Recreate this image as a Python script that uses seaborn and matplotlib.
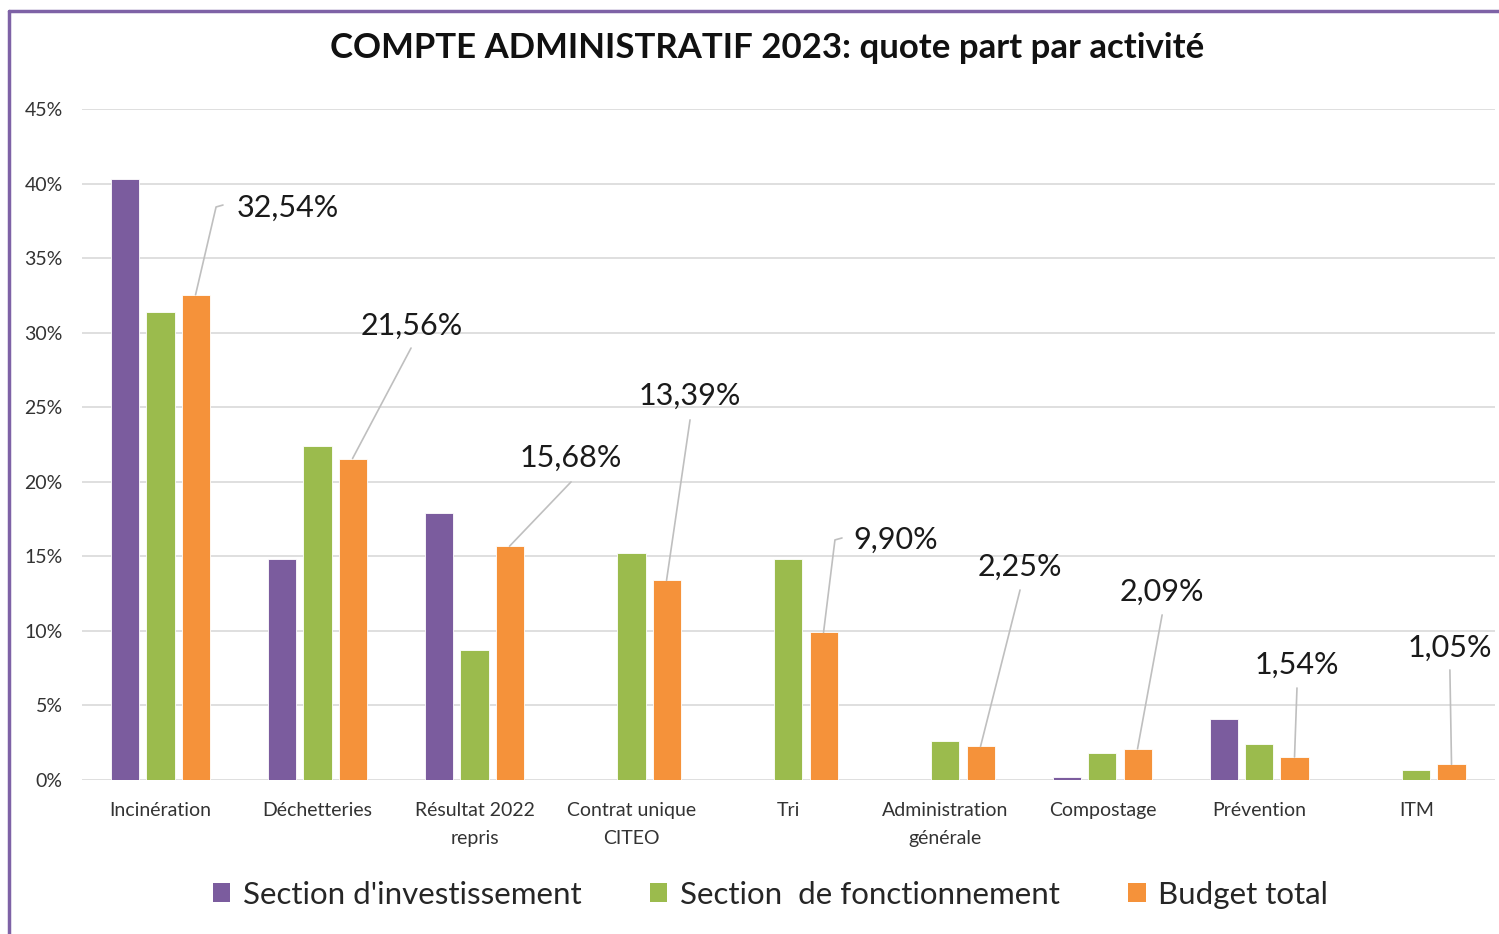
import matplotlib
matplotlib.use("Agg")
import matplotlib.pyplot as plt
import seaborn as sns
import pandas as pd
import numpy as np
from matplotlib.lines import Line2D
from matplotlib.patches import Patch
from matplotlib.ticker import PercentFormatter

categories = ["Incinération", "Déchetteries", "Résultat 2022\nrepris", "Contrat unique\nCITEO",
              "Tri", "Administration\ngénérale", "Compostage", "Prévention", "ITM"]
series_names = ["Section d'investissement", "Section  de fonctionnement", "Budget total"]
investissement = [40.3, 14.8, 17.9, 0.0, 0.0, 0.0, 0.2, 4.1, 0.0]
fonctionnement = [31.4, 22.4, 8.7, 15.2, 14.8, 2.6, 1.8, 2.4, 0.7]
budget_total = [32.54, 21.56, 15.68, 13.39, 9.90, 2.25, 2.09, 1.54, 1.05]
colors = ["#7B5C9E", "#9BBB4D", "#F5923A"]
title = "COMPTE ADMINISTRATIF 2023: quote part par activité"

df = pd.DataFrame({
    "cat": categories * 3,
    "serie": [series_names[0]] * 9 + [series_names[1]] * 9 + [series_names[2]] * 9,
    "val": investissement + fonctionnement + budget_total,
})

sns.set_theme(style="white")
plt.rcParams["font.family"] = ["Lato", "DejaVu Sans"]

fig = plt.figure(figsize=(14.99, 9.34), dpi=100)
ax = fig.add_axes([0.0547, 0.1649, 0.9426, 0.7184])

sns.barplot(data=df, x="cat", y="val", hue="serie", hue_order=series_names,
            palette=colors, width=0.67, gap=0.2, ax=ax, legend=False,
            saturation=1, edgecolor="white", linewidth=0.6)

ax.set_ylim(0, 45)
ax.set_xlim(-0.5, 8.5)
ax.set_yticks(np.arange(0, 46, 5))
ax.yaxis.set_major_formatter(PercentFormatter(decimals=0))
ax.grid(axis="y", color="#d9d9d9", linewidth=1.2)
ax.set_axisbelow(True)
for s in ax.spines.values():
    s.set_visible(False)
ax.tick_params(axis="both", length=0, labelsize=14, colors="#333333")
ax.tick_params(axis="y", pad=14)
ax.tick_params(axis="x", pad=16)
ax.set_xlabel("")
ax.set_ylabel("")
for lab in ax.get_xticklabels():
    lab.set_linespacing(1.75)

# data labels for Budget total with leader lines
label_pos = [  # (text x, text y, ha, leader end points)
    (0.487, 38.4, "left", [(0.354, 38.43), (0.398, 38.56)]),
    (1.602, 30.45, "center", [(1.596, 28.97)]),
    (2.615, 21.6, "center", [(2.615, 19.99)]),
    (3.373, 25.75, "center", [(3.373, 24.15)]),
    (4.411, 16.1, "left", [(4.296, 16.1), (4.341, 16.23)]),
    (5.475, 14.29, "center", [(5.475, 12.74)]),
    (6.38, 12.61, "center", [(6.38, 11.07)]),
    (7.239, 7.71, "center", [(7.239, 6.17)]),
    (8.213, 8.85, "center", [(8.213, 7.38)]),
]
bars = ax.containers[2]
for bar, v, (tx, ty, ha, pts) in zip(bars, budget_total, label_pos):
    bx = bar.get_x() + bar.get_width() / 2
    by = bar.get_height()
    xs = [bx] + [p[0] for p in pts]
    ys = [by] + [p[1] for p in pts]
    ax.plot(xs, ys, color="#bfbfbf", linewidth=1.2, zorder=1, clip_on=False)
    ax.text(tx, ty, f"{v:.2f}".replace(".", ",") + "%", ha=ha, va="center",
            fontsize=22, color="#1a1a1a", clip_on=False)

fig.suptitle(title, x=0.512, y=0.966, fontsize=25, fontweight="bold", color="#111111")

handles = [Patch(facecolor=c, edgecolor="none") for c in colors]
fig.legend(handles, series_names, loc="center", bbox_to_anchor=(0.514, 0.042), ncol=3,
           frameon=False, fontsize=22.5, handlelength=0.55, handleheight=0.55,
           handletextpad=0.4, columnspacing=2.2)

# purple frame (left and top)
fig.add_artist(Line2D([0.0063, 0.0063], [0.0, 0.988], color="#7E62A6", linewidth=2.5,
                      transform=fig.transFigure))
fig.add_artist(Line2D([0.0063, 1.0], [0.988, 0.988], color="#7E62A6", linewidth=2.5,
                      transform=fig.transFigure))

fig.savefig("out.png", dpi=100)
